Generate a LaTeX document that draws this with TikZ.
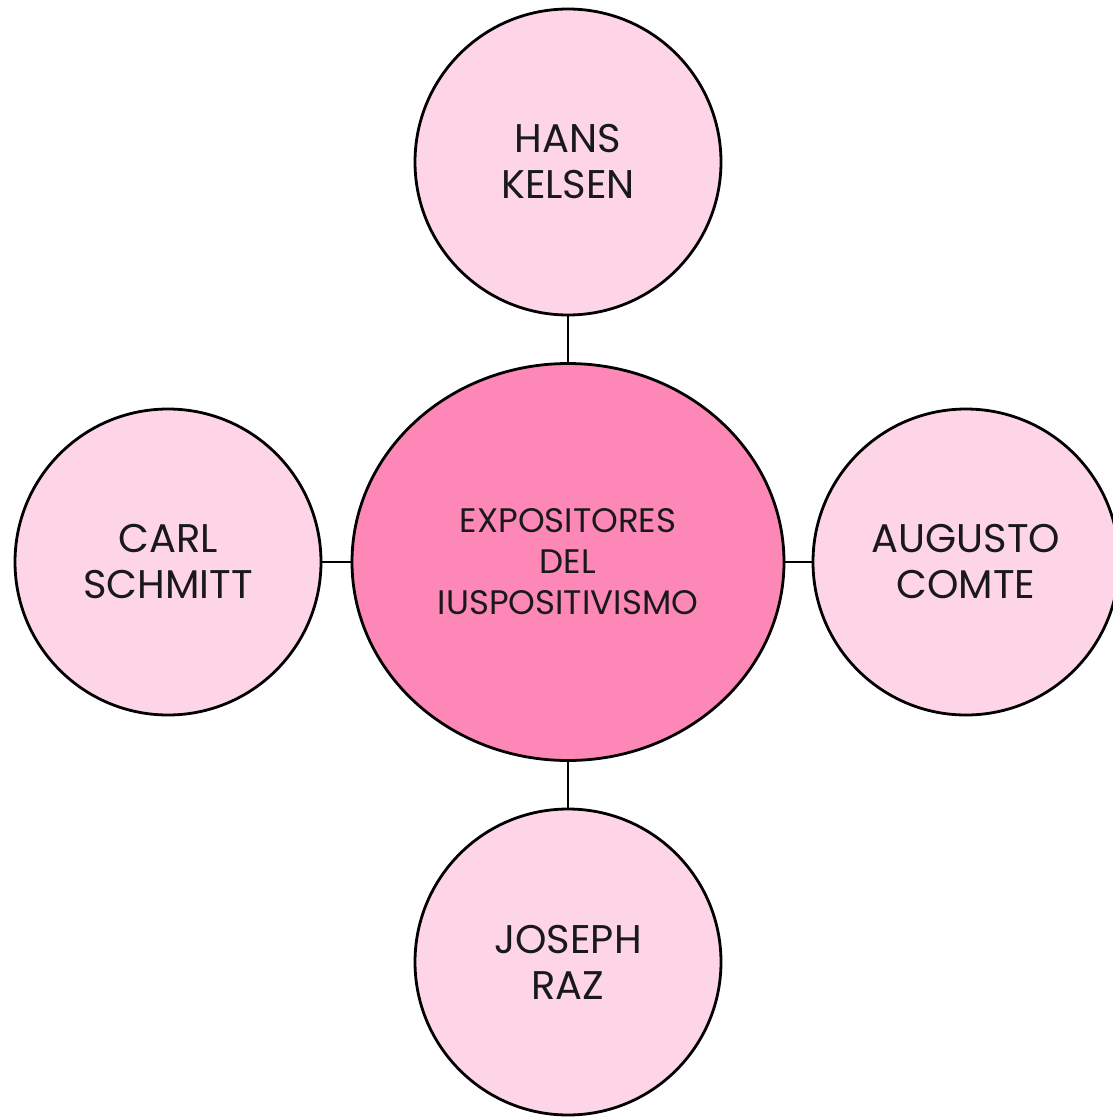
\documentclass[tikz,border=0pt]{standalone}
\usepackage{fontspec}
\setmainfont{Poppins}
\usetikzlibrary{shapes.geometric}
\definecolor{lightpink}{HTML}{FDD5E7}
\definecolor{midpink}{HTML}{FD88B7}
\tikzset{
  outer/.style={circle, draw=black, line width=2.8pt, fill=lightpink, minimum size=306pt, inner sep=0pt, align=center, font=\fontsize{40}{46}\selectfont, text=black!90},
  center/.style={ellipse, draw=black, line width=2.8pt, fill=midpink, minimum width=432pt, minimum height=397pt, inner sep=0pt, align=center, font=\fontsize{34}{41}\selectfont, text=black!90},
  link/.style={draw=black, line width=2.8pt}
}
\begin{document}
\begin{tikzpicture}[x=1pt,y=-1pt]
\useasboundingbox (0,0) rectangle (1113,1117);
\node[center] (c) at (568,562) {EXPOSITORES\\DEL\\IUSPOSITIVISMO};
\node[outer] (t) at (568,162) {HANS\\KELSEN};
\node[outer] (l) at (168,562) {CARL\\SCHMITT};
\node[outer] (r) at (966,562) {AUGUSTO\\COMTE};
\node[outer] (b) at (568,962) {JOSEPH\\RAZ};
\draw[link] (t) -- (c);
\draw[link] (l) -- (c);
\draw[link] (r) -- (c);
\draw[link] (b) -- (c);
\end{tikzpicture}
\end{document}
